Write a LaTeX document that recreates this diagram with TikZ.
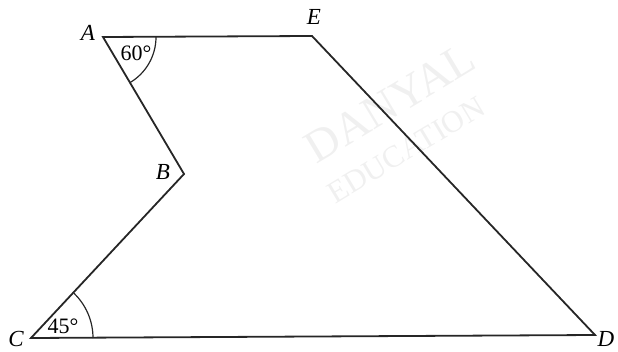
\documentclass[tikz,border=0pt]{standalone}
\usepackage{fontspec}
\setmainfont{Liberation Serif}
\usetikzlibrary{calc}
\begin{document}
\begin{tikzpicture}[x=1pt,y=-1pt,
  edge/.style={line width=1.8pt,draw=black!85,line join=miter},
  arcline/.style={line width=1.2pt,draw=black!85},
  vlabel/.style={font=\fontsize{23}{26}\selectfont\itshape,inner sep=0pt},
  alabel/.style={font=\fontsize{22}{25}\selectfont,inner sep=0pt},
  wm/.style={text=black!6,inner sep=0pt}]
\useasboundingbox (0,0) rectangle (618,352);
% watermark
\node[wm,rotate=31,font=\fontsize{46}{50}\selectfont] (wm1) at (390,103) {DANYAL};
\node[wm,rotate=31,font=\fontsize{31}{34}\selectfont] (wm2) at (406,150) {EDUCATION};
% vertices
\coordinate (A) at (103,37);
\coordinate (E) at (312,36);
\coordinate (B) at (184,174);
\coordinate (C) at (31,338);
\coordinate (D) at (595,335);
\draw[edge] (A) -- (E) -- (D) -- (C) -- (B) -- cycle;
% angle arcs
\draw[arcline] ($(A)+(53,0)$) arc[start angle=0,end angle=60,radius=53];
\draw[arcline] ($(C)+(62,0)$) arc[start angle=0,end angle=-46,radius=62];
% labels
\node[vlabel] (lA) at (88,33) {A};
\node[vlabel] (lE) at (314,17) {E};
\node[vlabel] (lB) at (163,172) {B};
\node[vlabel] (lC) at (16,339) {C};
\node[vlabel] (lD) at (606,339) {D};
\node[alabel] (a60) at (136,53) {60°};
\node[alabel] (a45) at (63,326) {45°};
\end{tikzpicture}
\end{document}
